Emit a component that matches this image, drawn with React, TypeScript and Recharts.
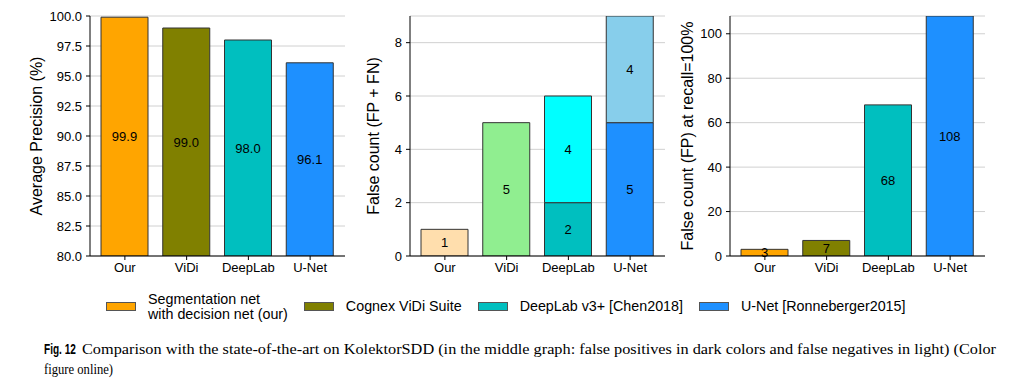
import React from 'react';
import { BarChart, Bar, XAxis, YAxis, CartesianGrid, Cell, LabelList } from 'recharts';

// values
const categories = ['Our', 'ViDi', 'DeepLab', 'U-Net'];
const averagePrecision = [99.9, 99.0, 98.0, 96.1];
const falsePositives = [0, 0, 2, 5];
const falseNegatives = [1, 5, 4, 4];
const fpAtFullRecall = [3, 7, 68, 108];

const darkColors = ['#ffa500', '#808000', '#00bfbf', '#1e90ff'];
const lightColors = ['#ffdead', '#90ee90', '#00ffff', '#87ceeb'];

const legendLabels = [
  'Segmentation net\nwith decision net (our)',
  'Cognex ViDi Suite',
  'DeepLab v3+ [Chen2018]',
  'U-Net [Ronneberger2015]',
];

const apTicks = [80, 82.5, 85, 87.5, 90, 92.5, 95, 97.5, 100];
const countTicks = [0, 2, 4, 6, 8];
const recallTicks = [0, 20, 40, 60, 80, 100];

const captionHead = 'Fig. 12';
const captionLine1 =
  'Comparison with the state-of-the-art on KolektorSDD (in the middle graph: false positives in dark colors and false negatives in light) (Color';
const captionLine2 = 'figure online)';

const data = categories.map((name, i) => ({
  name,
  ap: averagePrecision[i],
  fp: falsePositives[i],
  fn: falseNegatives[i],
  fpRecall: fpAtFullRecall[i],
}));

const SANS = '"Liberation Sans", Arial, sans-serif';
const SERIF = '"Liberation Serif", "Times New Roman", serif';
const EDGE = '#333333';
const tickStyle = { fill: '#000', fontSize: 13, fontFamily: SANS };

interface PanelProps {
  left: number;
  width: number;
  marginRight: number;
  yWidth: number;
  labelOffset: number;
  yLabel: string;
  domain: [number, number];
  ticks: number[];
  tickFormatter?: (v: number) => string;
  children: React.ReactNode;
}

const Panel = ({ left, width, marginRight, yWidth, labelOffset, yLabel, domain, ticks, tickFormatter, children }: PanelProps) => (
  <div style={{ position: 'absolute', left, top: 0 }}>
    <BarChart
      width={width}
      height={290}
      data={data}
      margin={{ top: 16, right: marginRight, bottom: 4, left: 0 }}
      barSize={47}
    >
      <CartesianGrid vertical={false} stroke="#d0d0d0" />
      <XAxis
        dataKey="name"
        height={30}
        padding={{ left: 4, right: 4 }}
        tickSize={4}
        tickMargin={3}
        tick={tickStyle}
        tickLine={{ stroke: '#000' }}
        axisLine={{ stroke: '#000' }}
      />
      <XAxis
        xAxisId="top"
        dataKey="name"
        orientation="top"
        height={0}
        tick={false}
        tickLine={false}
        axisLine={{ stroke: '#000' }}
      />
      <YAxis
        width={yWidth}
        domain={domain}
        ticks={ticks}
        allowDataOverflow
        interval={0}
        tickFormatter={tickFormatter}
        tickSize={4}
        tickMargin={4}
        tick={tickStyle}
        tickLine={{ stroke: '#000' }}
        axisLine={{ stroke: '#000' }}
        label={{
          value: yLabel,
          angle: -90,
          position: 'insideLeft',
          offset: labelOffset,
          style: { textAnchor: 'middle', fontSize: 16, fontFamily: SANS, fill: '#000' },
        }}
      />
      <YAxis
        yAxisId="right"
        orientation="right"
        width={0}
        tick={false}
        tickLine={false}
        axisLine={{ stroke: '#555' }}
      />
      {children}
    </BarChart>
  </div>
);

const labelStyle = { fill: '#000', fontSize: 13, fontFamily: SANS };
const hideZero = (v: any) => (v ? v : '');

export default function App() {
  return (
    <div style={{ position: 'absolute', left: 0, top: 0, width: 1014, height: 387, background: '#fff', fontFamily: SANS }}>
      <Panel
        left={0}
        width={360}
        marginRight={15}
        yWidth={90}
        labelOffset={36}
        yLabel="Average Precision (%)"
        domain={[80, 100]}
        ticks={apTicks}
        tickFormatter={(v) => v.toFixed(1)}
      >
        <Bar dataKey="ap" isAnimationActive={false} stroke={EDGE} strokeWidth={1}>
          {data.map((d, i) => (
            <Cell key={d.name} fill={darkColors[i]} />
          ))}
          <LabelList dataKey="ap" position="center" {...labelStyle} formatter={(v: any) => Number(v).toFixed(1)} />
        </Bar>
      </Panel>

      <Panel
        left={340}
        width={340}
        marginRight={15}
        yWidth={70}
        labelOffset={33}
        yLabel="False count (FP + FN)"
        domain={[0, 9]}
        ticks={countTicks}
      >
        <Bar dataKey="fp" stackId="a" isAnimationActive={false} stroke={EDGE} strokeWidth={1}>
          {data.map((d, i) => (
            <Cell key={d.name} fill={darkColors[i]} />
          ))}
          <LabelList dataKey="fp" position="center" {...labelStyle} formatter={hideZero} />
        </Bar>
        <Bar dataKey="fn" stackId="a" isAnimationActive={false} stroke={EDGE} strokeWidth={1}>
          {data.map((d, i) => (
            <Cell key={d.name} fill={lightColors[i]} />
          ))}
          <LabelList dataKey="fn" position="center" {...labelStyle} formatter={hideZero} />
        </Bar>
      </Panel>

      <Panel
        left={660}
        width={354}
        marginRight={29}
        yWidth={70}
        labelOffset={27}
        yLabel="False count (FP) at recall=100%"
        domain={[0, 108]}
        ticks={recallTicks}
      >
        <Bar dataKey="fpRecall" isAnimationActive={false} stroke={EDGE} strokeWidth={1}>
          {data.map((d, i) => (
            <Cell key={d.name} fill={darkColors[i]} />
          ))}
          <LabelList dataKey="fpRecall" position="center" {...labelStyle} />
        </Bar>
      </Panel>

      {/* shared legend under the three panels */}
      <div
        style={{
          position: 'absolute',
          left: 106,
          top: 291,
          height: 31,
          display: 'flex',
          alignItems: 'center',
          gap: 16,
          fontSize: 14.3,
          lineHeight: '15px',
          color: '#000',
        }}
      >
        {legendLabels.map((label, i) => (
          <div key={label} style={{ display: 'flex', alignItems: 'center' }}>
            <div
              style={{
                width: 30,
                height: 9,
                boxSizing: 'border-box',
                background: darkColors[i],
                border: '1px solid #555',
                marginRight: 12,
              }}
            />
            <span style={{ whiteSpace: 'pre-line' }}>{label}</span>
          </div>
        ))}
      </div>

      <svg width={1014} height={57} style={{ position: 'absolute', left: 0, top: 330 }}>
        <g transform="translate(44,24) scale(0.72,1)">
          <text x={0} y={0} fontFamily={SANS} fontWeight="bold" fontSize={14}>
            {captionHead}
          </text>
        </g>
        <text x={82} y={24} fontFamily={SERIF} fontSize={15} textLength={914} lengthAdjust="spacingAndGlyphs">
          {captionLine1}
        </text>
        <text x={44} y={44} fontFamily={SERIF} fontSize={15} textLength={69} lengthAdjust="spacingAndGlyphs">
          {captionLine2}
        </text>
      </svg>
    </div>
  );
}
